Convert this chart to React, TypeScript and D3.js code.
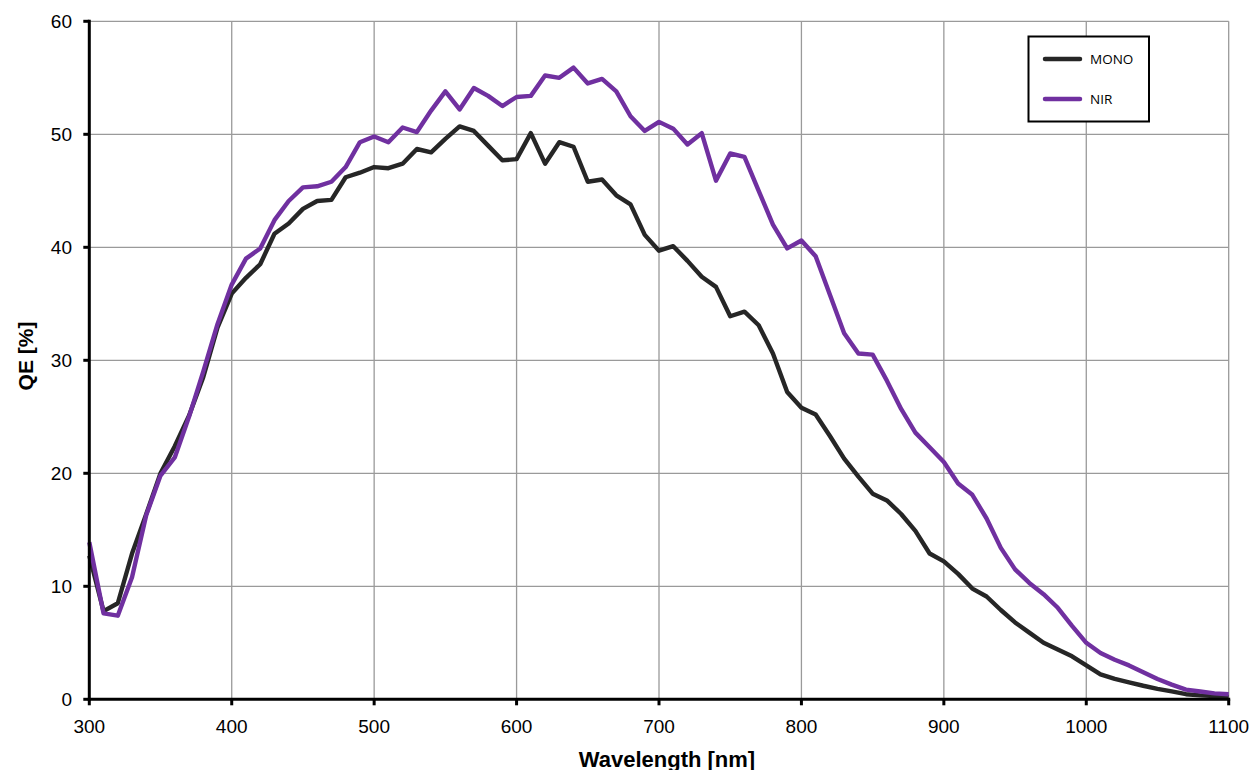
import React, { useEffect, useRef } from "react";
import * as d3 from "d3";

const wavelengths: number[] = d3.range(300, 1101, 10);

const monoQE: number[] = [
  12.7, 7.8, 8.5, 12.9, 16.4, 20.0, 22.4, 25.1, 28.5, 32.9,
  35.9, 37.3, 38.5, 41.2, 42.1, 43.4, 44.1, 44.2, 46.2, 46.6,
  47.1, 47.0, 47.4, 48.7, 48.4, 49.6, 50.7, 50.3, 49.0, 47.7,
  47.8, 50.1, 47.4, 49.3, 48.9, 45.8, 46.0, 44.6, 43.8, 41.1,
  39.7, 40.1, 38.8, 37.4, 36.5, 33.9, 34.3, 33.1, 30.6, 27.2,
  25.8, 25.2, 23.3, 21.3, 19.7, 18.2, 17.6, 16.4, 14.9, 12.9,
  12.2, 11.1, 9.8, 9.1, 7.9, 6.8, 5.9, 5.0, 4.4, 3.8,
  3.0, 2.2, 1.8, 1.5, 1.2, 0.93, 0.7, 0.45, 0.35, 0.28,
  0.2,
];

const nirQE: number[] = [
  13.9, 7.6, 7.4, 10.8, 16.3, 19.8, 21.4, 25.0, 29.0, 33.2,
  36.7, 39.0, 39.9, 42.4, 44.1, 45.3, 45.4, 45.8, 47.1, 49.3,
  49.8, 49.3, 50.6, 50.2, 52.1, 53.8, 52.2, 54.1, 53.4, 52.5,
  53.3, 53.4, 55.2, 55.0, 55.9, 54.5, 54.9, 53.8, 51.6, 50.3,
  51.1, 50.5, 49.1, 50.1, 45.9, 48.3, 48.0, 45.0, 42.0, 39.9,
  40.6, 39.2, 35.8, 32.4, 30.6, 30.5, 28.2, 25.7, 23.6, 22.3,
  21.0, 19.1, 18.1, 16.0, 13.4, 11.5, 10.3, 9.3, 8.1, 6.5,
  5.0, 4.1, 3.5, 3.0, 2.4, 1.8, 1.3, 0.86, 0.69, 0.52,
  0.45,
];

const seriesNames: string[] = ["MONO", "NIR"];
const seriesColors: string[] = ["#262626", "#7030A0"];
const xTicks: number[] = [300, 400, 500, 600, 700, 800, 900, 1000, 1100];
const yTicks: number[] = [0, 10, 20, 30, 40, 50, 60];

export default function App() {
  const ref = useRef<SVGSVGElement>(null);

  useEffect(() => {
    const svg = d3.select(ref.current);
    svg.selectAll("*").remove();

    const left = 89.3, right = 1228.7, top = 21.3, bottom = 699.3;
    const x = d3.scaleLinear().domain([300, 1100]).range([left, right]);
    const y = d3.scaleLinear().domain([0, 60]).range([bottom, top]);

    svg.append("rect").attr("width", 1256).attr("height", 770).attr("fill", "#fff");

    const grid = svg.append("g").attr("stroke", "#9a9a9a").attr("stroke-width", 1.3);
    yTicks.forEach((t) => {
      grid.append("line").attr("x1", left).attr("x2", right).attr("y1", y(t)).attr("y2", y(t));
    });
    xTicks.forEach((t) => {
      grid.append("line").attr("x1", x(t)).attr("x2", x(t)).attr("y1", top).attr("y2", bottom);
    });

    const data = [monoQE, nirQE];
    const line = d3
      .line<number>()
      .x((_, i) => x(wavelengths[i]))
      .y((d) => y(d));

    data.forEach((vals, k) => {
      svg
        .append("path")
        .datum(vals)
        .attr("d", line)
        .attr("fill", "none")
        .attr("stroke", seriesColors[k])
        .attr("stroke-width", 4.4)
        .attr("stroke-linejoin", "round");
    });

    // axes
    const ax = svg.append("g").attr("stroke", "#000").attr("stroke-width", 3);
    ax.append("line").attr("x1", left).attr("x2", left).attr("y1", top - 1.5).attr("y2", bottom + 1.5);
    ax.append("line").attr("x1", left - 1.5).attr("x2", right + 1.5).attr("y1", bottom).attr("y2", bottom);
    yTicks.forEach((t) => {
      ax.append("line").attr("x1", left - 6).attr("x2", left).attr("y1", y(t)).attr("y2", y(t));
    });
    xTicks.forEach((t) => {
      ax.append("line").attr("x1", x(t)).attr("x2", x(t)).attr("y1", bottom).attr("y2", bottom + 6);
    });

    const font = "'Liberation Sans', Arial, Helvetica, sans-serif";
    yTicks.forEach((t) => {
      svg
        .append("text")
        .attr("x", 72)
        .attr("y", y(t))
        .attr("dy", "0.36em")
        .attr("text-anchor", "end")
        .attr("font-family", font)
        .attr("font-size", 19)
        .attr("fill", "#000")
        .text(t);
    });
    xTicks.forEach((t) => {
      svg
        .append("text")
        .attr("x", x(t))
        .attr("y", 733)
        .attr("text-anchor", "middle")
        .attr("font-family", font)
        .attr("font-size", 19)
        .attr("fill", "#000")
        .text(t);
    });

    svg
      .append("text")
      .attr("x", 667)
      .attr("y", 767)
      .attr("text-anchor", "middle")
      .attr("font-family", font)
      .attr("font-weight", "bold")
      .attr("font-size", 22)
      .attr("fill", "#000")
      .text("Wavelength [nm]");

    svg
      .append("text")
      .attr("transform", "translate(33,356) rotate(-90)")
      .attr("text-anchor", "middle")
      .attr("font-family", font)
      .attr("font-weight", "bold")
      .attr("font-size", 21)
      .attr("fill", "#000")
      .text("QE [%]");

    // legend
    const lg = svg.append("g");
    lg.append("rect")
      .attr("x", 1028.5)
      .attr("y", 36.5)
      .attr("width", 120.5)
      .attr("height", 85)
      .attr("fill", "#fff")
      .attr("stroke", "#000")
      .attr("stroke-width", 2);
    seriesNames.forEach((name, k) => {
      const yy = 59 + k * 40;
      lg.append("line")
        .attr("x1", 1045)
        .attr("x2", 1080)
        .attr("y1", yy)
        .attr("y2", yy)
        .attr("stroke", seriesColors[k])
        .attr("stroke-width", 4.5)
        .attr("stroke-linecap", "round");
      lg.append("text")
        .attr("x", 1090)
        .attr("y", yy + 5)
        .attr("font-family", "'Open Sans', sans-serif")
        .attr("font-size", 13.5)
        .attr("fill", "#000")
        .text(name);
    });
  }, []);

  return (
    <svg
      ref={ref}
      width={1256}
      height={770}
      style={{ position: "absolute", left: 0, top: 0, display: "block" }}
    />
  );
}
